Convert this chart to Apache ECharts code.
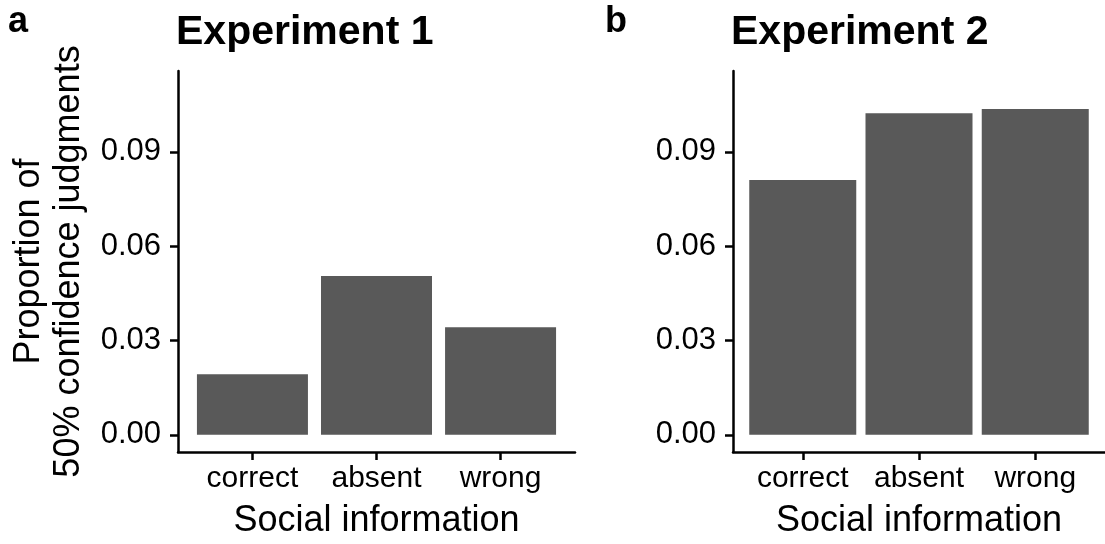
<!DOCTYPE html>
<html>
<head>
<meta charset="utf-8">
<title>Experiment 1 / 2</title>
<script src="https://cdn.jsdelivr.net/npm/echarts@6/dist/echarts.min.js"></script>
<style>
  html, body { margin: 0; padding: 0; background: #fff; }
  #chart { width: 1105px; height: 544px; }
</style>
</head>
<body>
<div id="chart"></div>
<script>
// data
const categories = ['correct', 'absent', 'wrong']
const exp1Values = [0.0193, 0.0505, 0.0342]
const exp2Values = [0.0810, 0.1023, 0.1036]
const yTicks = [0, 0.03, 0.06, 0.09]
const catTicks = categories.map((c, i) => i + 1)

const font = '"Liberation Sans", Arial, Helvetica, sans-serif'
const barColor = '#595959'

function xAxisFor (gridIndex) {
  return {
    type: 'value',
    gridIndex: gridIndex,
    min: 0.4,
    max: 3.6,
    name: 'Social information',
    nameLocation: 'middle',
    nameGap: 51,
    nameTextStyle: { fontSize: 36, color: '#000', fontFamily: font },
    splitLine: { show: false },
    axisLine: { show: true, onZero: false, lineStyle: { color: '#000', width: 2.5 } },
    axisTick: { show: true, length: 8, customValues: catTicks, lineStyle: { color: '#000', width: 2.5 } },
    axisLabel: {
      customValues: catTicks,
      fontSize: 30,
      color: '#000',
      fontFamily: font,
      margin: 12,
      formatter: v => categories[Math.round(v) - 1]
    }
  }
}

function yAxisFor (gridIndex, withName) {
  return {
    type: 'value',
    gridIndex: gridIndex,
    min: -0.00546,
    max: 0.1157,
    name: withName ? 'Proportion of\n50% confidence judgments' : '',
    nameLocation: 'middle',
    nameGap: 89,
    nameTextStyle: { fontSize: 36, lineHeight: 40, color: '#000', fontFamily: font },
    splitLine: { show: false },
    axisLine: { show: true, onZero: false, lineStyle: { color: '#000', width: 2.5 } },
    axisTick: { show: true, length: 8, customValues: yTicks, lineStyle: { color: '#000', width: 2.5 } },
    axisLabel: {
      customValues: yTicks,
      fontSize: 31,
      color: '#000',
      fontFamily: font,
      margin: 17,
      formatter: v => v.toFixed(2)
    }
  }
}

function barSeries (values, axisIndex, width) {
  return {
    type: 'bar',
    xAxisIndex: axisIndex,
    yAxisIndex: axisIndex,
    barWidth: width,
    itemStyle: { color: barColor },
    silent: true,
    data: values.map((v, i) => [i + 1, v])
  }
}

// panel letters and titles, no padding so left/top are the text box itself
const tagStyle = { fontSize: 36, fontWeight: 'bold', color: '#000', fontFamily: font }
const titleStyle = { fontSize: 41, fontWeight: 'bold', color: '#000', fontFamily: font }

const myChart = echarts.init(document.getElementById('chart'))
myChart.setOption({
  animation: false,
  backgroundColor: '#fff',
  title: [
    { text: 'a', left: 8, top: 4, padding: 0, textStyle: tagStyle },
    { text: 'Experiment 1', left: 176, top: 12, padding: 0, textStyle: titleStyle },
    { text: 'b', left: 605, top: 4, padding: 0, textStyle: tagStyle },
    { text: 'Experiment 2', left: 731, top: 12, padding: 0, textStyle: titleStyle }
  ],
  grid: [
    { left: 178, top: 71, width: 397, height: 384 },
    { left: 733, top: 71, width: 381, height: 384 }
  ],
  xAxis: [xAxisFor(0), xAxisFor(1)],
  yAxis: [yAxisFor(0, true), yAxisFor(1, false)],
  series: [
    barSeries(exp1Values, 0, 111),
    barSeries(exp2Values, 1, 107)
  ]
})
</script>
</body>
</html>
